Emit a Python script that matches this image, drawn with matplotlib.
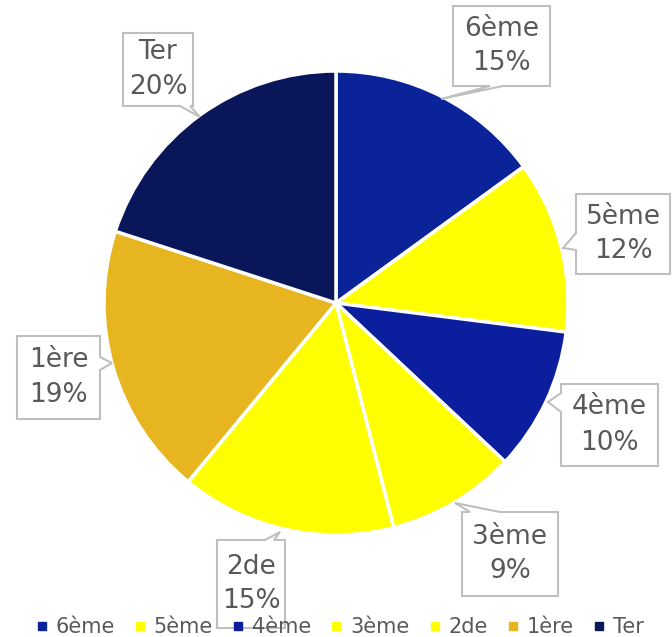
import matplotlib.pyplot as plt
from matplotlib.patches import Polygon
from matplotlib.lines import Line2D

# data
classes = ['6ème', '5ème', '4ème', '3ème', '2de', '1ère', 'Ter']
shares = [15, 12, 10, 9, 15, 19, 20]
colors = ['#0B2399', '#FFFF00', '#0B1E9E', '#FFFF00', '#FFFF00', '#E6B520', '#0A165A']

W, H = 672, 637
text_gray = '#595959'
edge_gray = '#BFBFBF'

# callout boxes in pixel coords (y down): box, side of tail, tail base, tail tip
callouts = [
    ((453, 6, 550, 86), 'bottom', (490, 503), (441, 99)),
    ((576, 194, 670, 274), 'left', (233, 250), (563, 248)),
    ((561, 384, 658, 466), 'left', (393, 412), (548, 402)),
    ((462, 512, 558, 596), 'top', (470, 500), (455, 503)),
    ((217, 540, 285, 628), 'top', (265, 274), (280, 532)),
    ((17, 336, 100, 419), 'right', (357, 370), (112, 363)),
    ((123, 33, 193, 106), 'bottom', (180, 190), (200, 117)),
]

fig = plt.figure(figsize=(W / 100, H / 100), dpi=100)
ax = fig.add_axes([0, 0, 1, 1])

ax.pie(shares, colors=colors, startangle=90, counterclock=False,
       center=(336, H - 303), radius=232,
       wedgeprops=dict(edgecolor='white', linewidth=2.5))
ax.set_xlim(0, W)
ax.set_ylim(0, H)
ax.set_aspect('equal')
ax.axis('off')


def callout_shape(box, side, base, tip):
    x0, y0, x1, y1 = box
    a, b = base
    pts = [(x0, y0)]
    if side == 'top':
        pts += [(a, y0), tip, (b, y0)]
    pts.append((x1, y0))
    if side == 'right':
        pts += [(x1, a), tip, (x1, b)]
    pts.append((x1, y1))
    if side == 'bottom':
        pts += [(b, y1), tip, (a, y1)]
    pts.append((x0, y1))
    if side == 'left':
        pts += [(x0, b), tip, (x0, a)]
    return [(px, H - py) for px, py in pts]


for name, val, (box, side, base, tip) in zip(classes, shares, callouts):
    ax.add_patch(Polygon(callout_shape(box, side, base, tip), closed=True,
                         facecolor='white', edgecolor=edge_gray, lw=1.5, zorder=3))
    cx = (box[0] + box[2]) / 2
    cy = (box[1] + box[3]) / 2
    ax.text(cx, H - cy, f'{name}\n{val}%', ha='center', va='center',
            fontsize=19, color=text_gray, linespacing=1.45, zorder=4)

handles = [Line2D([], [], marker='s', linestyle='none', markersize=6,
                  markerfacecolor=c, markeredgecolor=c) for c in colors]
fig.legend(handles, classes, loc='lower center', bbox_to_anchor=(0.505, -0.03),
           ncol=7, frameon=False, fontsize=15, labelcolor=text_gray,
           handlelength=0.6, handletextpad=0.35, columnspacing=0.92)

fig.savefig('out.png', dpi=100)
